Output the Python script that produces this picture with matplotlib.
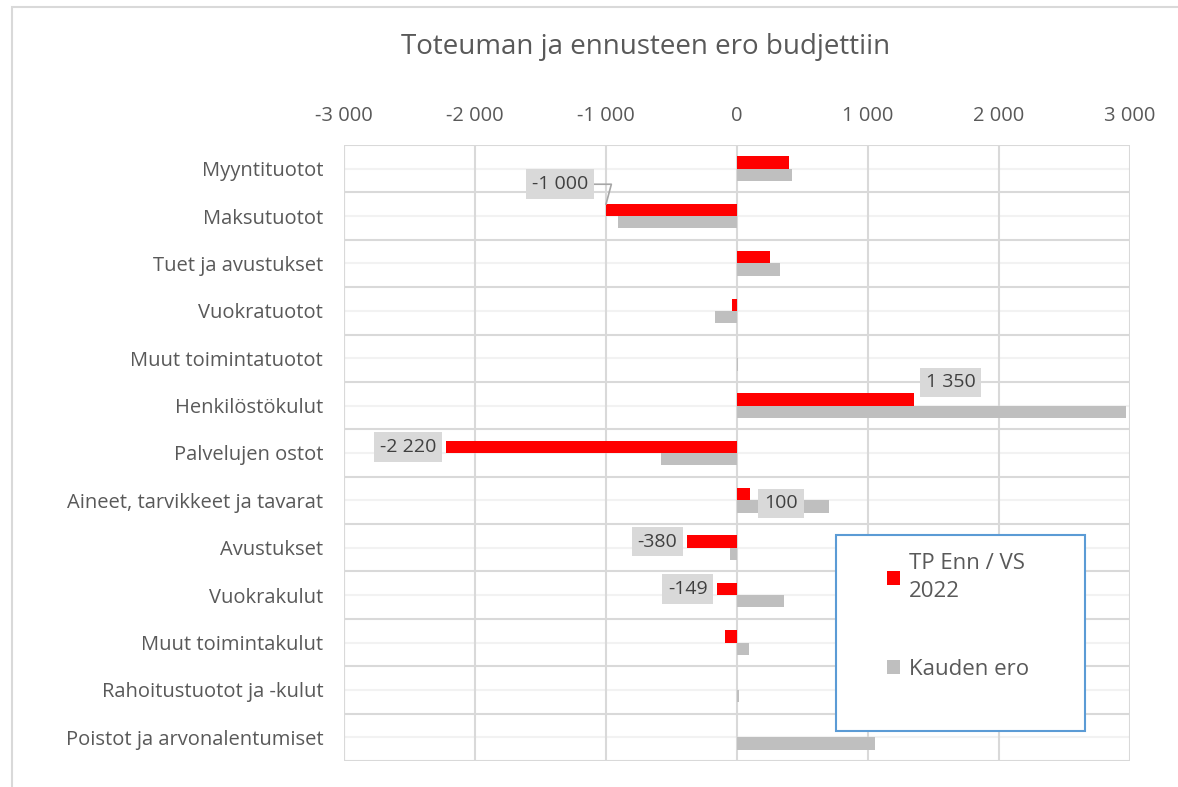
import matplotlib
matplotlib.use("Agg")
import matplotlib.pyplot as plt
import matplotlib.ticker as mticker
from matplotlib.patches import Rectangle
import numpy as np

plt.rcParams['font.family'] = ['Open Sans', 'DejaVu Sans']

categories = [
    "Myyntituotot", "Maksutuotot", "Tuet ja avustukset", "Vuokratuotot",
    "Muut toimintatuotot", "Henkilöstökulut", "Palvelujen ostot",
    "Aineet, tarvikkeet ja tavarat", "Avustukset", "Vuokrakulut",
    "Muut toimintakulut", "Rahoitustuotot ja -kulut", "Poistot ja arvonalentumiset",
]
tp_enn = [400, -1000, 250, -40, 0, 1350, -2220, 100, -380, -149, -90, 0, 0]
kauden_ero = [420, -910, 330, -170, 4, 2970, -580, 700, -50, 360, 95, 12, 1050]
labelled = [1, 5, 6, 7, 8, 9]   # rows with a data label on the red bar

series_names = ["TP Enn / VS\n2022", "Kauden ero"]
red = "#ff0000"
grey = "#bfbfbf"
txt = "#595959"

W, H = 1178, 787
fig = plt.figure(figsize=(W / 100, H / 100), dpi=100)
ax = fig.add_axes([344 / W, 1 - 761 / H, (1130 - 344) / W, (761 - 145) / H])

# outer chart frame
fig.patches.append(Rectangle((11.5 / W, -0.1), 1.2, 1 - 7 / H + 0.1, transform=fig.transFigure,
                             fill=False, edgecolor="#d9d9d9", linewidth=1.5))

n = len(categories)
y = np.arange(n)
h = 0.26
ax.barh(y - h / 2, tp_enn, height=h, color=red, label=series_names[0], zorder=3)
ax.barh(y + h / 2, kauden_ero, height=h, color=grey, label=series_names[1], zorder=3)

fmt = lambda v: f"{v:,.0f}".replace(",", " ")
ax.set_xlim(-3000, 3000)
ax.set_ylim(n - 0.5, -0.5)
ax.xaxis.set_major_locator(mticker.MultipleLocator(1000))
ax.xaxis.set_major_formatter(mticker.FuncFormatter(lambda v, p: fmt(v)))
ax.xaxis.tick_top()
ax.tick_params(axis="x", length=0, pad=14, labelsize=14.5, labelcolor=txt)
ax.set_yticks(y)
ax.set_yticklabels(categories)
ax.tick_params(axis="y", length=0, pad=15, labelsize=14.5, labelcolor=txt)

# grid: vertical at ticks, horizontal between categories, lighter through centres
ax.grid(axis="x", color="#d9d9d9", linewidth=1.5, zorder=0)
for b in np.arange(-0.5, n, 1.0):
    ax.axhline(b, color="#d9d9d9", linewidth=1.5, zorder=0)
for c in y:
    ax.axhline(c, color="#f2f2f2", linewidth=1.5, zorder=0)
for s in ax.spines.values():
    s.set_visible(False)
ax.axvline(-3000, color="#d9d9d9", linewidth=1.5, zorder=0)

# data labels (outside end, some moved by hand)
box = dict(boxstyle="square,pad=0.3", facecolor="#d9d9d9", edgecolor="none")
for i in labelled:
    v = tp_enn[i]
    s = fmt(v)
    if i == 1:
        ax.annotate(s, xy=(v, i - h / 2 - 0.12), xytext=(-46, 20), textcoords="offset pixels",
                    ha="center", va="center", fontsize=14, color="#404040", bbox=box,
                    arrowprops=dict(arrowstyle="-", color="#a6a6a6", lw=1.2,
                                    connectionstyle="angle,angleA=0,angleB=75,rad=0",
                                    shrinkA=0, shrinkB=0))
    elif i == 5:
        ax.annotate(s, xy=(v, i - h / 2), xytext=(12, 17), textcoords="offset pixels",
                    ha="left", va="center", fontsize=14, color="#404040", bbox=box)
    elif v < 0:
        ax.annotate(s, xy=(v, i - h / 2), xytext=(-10, 0), textcoords="offset pixels",
                    ha="right", va="center", fontsize=14, color="#404040", bbox=box)
    else:
        ax.annotate(s, xy=(v, i), xytext=(14, -3), textcoords="offset pixels",
                    ha="left", va="center", fontsize=14, color="#404040", bbox=box)

fig.text(646 / W, 1 - 47 / H, "Toteuman ja ennusteen ero budjettiin", ha="center", va="center",
         fontsize=20, color=txt)

# legend frame drawn separately so the entries can sit where the original puts them
fig.patches.append(Rectangle((836 / W, 1 - 731 / H), (1085 - 836) / W, (731 - 535) / H,
                             transform=fig.transFigure, facecolor="white",
                             edgecolor="#5b9bd5", linewidth=1.5, zorder=4))
leg = fig.legend(loc="upper left", bbox_to_anchor=(887 / W, 1 - 553 / H),
                 frameon=False, fontsize=16, labelcolor=txt, handlelength=0.6,
                 handleheight=0.6, handletextpad=0.4, labelspacing=2.55, borderpad=0,
                 borderaxespad=0)
for t in leg.get_texts():
    t.set_linespacing(1.45)
leg.set_zorder(10)

fig.savefig("out.png", dpi=100)
